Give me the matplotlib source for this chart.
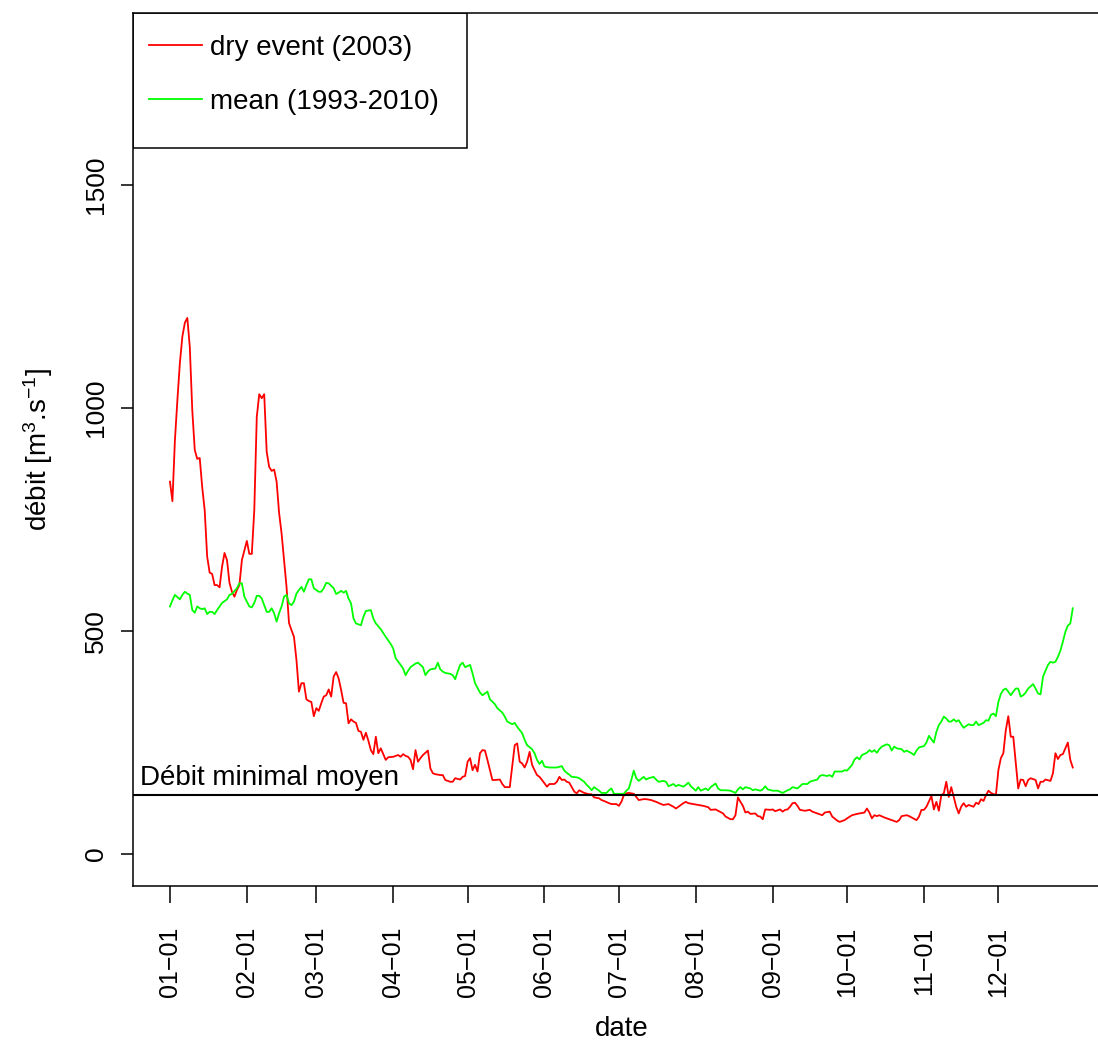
import matplotlib
matplotlib.use('Agg')
import matplotlib.pyplot as plt
import matplotlib.transforms as mtransforms
from matplotlib.patches import Rectangle

# Daily flow for the dry year 2003 (day of year, m3/s)
dry_days = [1, 2, 3, 4, 5, 6, 7, 8, 9, 10, 11, 12, 13, 14, 15, 16, 17, 18, 19, 20,
            21, 22, 23, 24, 25, 26, 27, 28, 29, 30, 32, 33, 34, 35, 36, 37, 38, 39, 40,
            41, 42, 43, 44, 45, 46, 47, 48, 49, 50, 51, 52, 53, 54, 55, 56, 57, 58, 59,
            60, 61, 62, 63, 64, 65, 66, 67, 68, 69, 70, 71, 72, 73, 74, 75, 76, 77, 78,
            79, 80, 81, 82, 83, 84, 85, 86, 88, 89, 91, 93, 94, 95, 96, 97, 98, 99, 100,
            101, 102, 103, 104, 105, 106, 107, 108, 110, 111, 112, 114, 115, 116, 118,
            119, 120, 121, 122, 123, 124, 125, 126, 127, 128, 129, 130, 131, 132, 134,
            135, 136, 138, 139, 140, 141, 142, 143, 144, 145, 146, 147, 148, 149, 150,
            151, 153, 154, 156, 157, 158, 159, 160, 161, 162, 163, 164, 165, 166, 168,
            170, 171, 172, 174, 175, 176, 178, 179, 181, 182, 183, 184, 185, 186, 188,
            189, 190, 192, 193, 195, 197, 199, 200, 202, 204, 205, 206, 208, 209, 210,
            212, 214, 216, 218, 219, 221, 222, 224, 225, 227, 228, 229, 230, 231, 232,
            233, 234, 235, 237, 238, 239, 240, 241, 243, 244, 245, 247, 248, 249, 250,
            251, 252, 253, 254, 255, 257, 259, 260, 262, 264, 265, 267, 268, 270, 271,
            273, 274, 276, 278, 279, 281, 282, 283, 284, 285, 286, 287, 289, 290, 292,
            294, 295, 296, 298, 299, 300, 302, 303, 304, 305, 306, 308, 309, 310, 311,
            312, 313, 314, 315, 316, 317, 318, 319, 320, 321, 322, 323, 325, 326, 327,
            328, 329, 330, 331, 332, 334, 335, 336, 337, 338, 339, 340, 341, 343, 344,
            345, 346, 347, 348, 350, 351, 352, 353, 354, 356, 357, 358, 359, 360, 361,
            362, 363, 364, 365]
dry_flow = [835, 791, 928, 1018, 1101, 1160, 1191, 1202, 1137, 995, 906, 886, 888, 823,
            771, 667, 631, 628, 603, 603, 598, 644, 675, 659, 608, 588, 577, 592, 603,
            659, 702, 673, 673, 771, 980, 1031, 1022, 1031, 902, 868, 859, 862, 835,
            765, 719, 659, 599, 518, 502, 487, 435, 364, 383, 383, 347, 343, 341, 309,
            327, 321, 338, 353, 356, 369, 353, 398, 408, 394, 368, 339, 338, 293, 302,
            297, 294, 276, 274, 256, 272, 254, 233, 224, 263, 226, 237, 211, 217, 218,
            222, 218, 224, 220, 218, 211, 190, 233, 207, 215, 222, 227, 232, 192, 181,
            179, 177, 177, 166, 162, 162, 170, 167, 173, 175, 207, 215, 188, 200, 185,
            226, 233, 232, 211, 188, 166, 166, 167, 157, 150, 150, 196, 244, 248, 207,
            203, 194, 207, 229, 200, 188, 177, 173, 166, 151, 157, 157, 162, 173, 166,
            167, 162, 160, 150, 140, 136, 143, 137, 134, 134, 127, 125, 121, 119, 114,
            112, 112, 108, 117, 132, 136, 137, 135, 128, 121, 123, 123, 121, 117, 112,
            110, 112, 106, 102, 106, 114, 117, 114, 112, 110, 108, 105, 99, 100, 97, 91,
            84, 78, 78, 87, 127, 117, 108, 93, 95, 90, 91, 85, 84, 78, 100, 99, 100, 96,
            100, 95, 99, 100, 106, 114, 115, 108, 99, 97, 99, 95, 91, 87, 93, 95, 84,
            75, 72, 76, 80, 87, 90, 91, 93, 102, 93, 80, 87, 85, 87, 82, 80, 76, 72, 76,
            85, 87, 85, 82, 76, 84, 99, 99, 106, 130, 100, 117, 97, 132, 136, 162, 128,
            150, 128, 106, 91, 106, 114, 106, 110, 106, 115, 112, 123, 119, 132, 142,
            137, 132, 188, 215, 226, 278, 309, 263, 263, 147, 167, 166, 152, 166, 170,
            166, 147, 162, 162, 167, 164, 181, 226, 213, 222, 224, 237, 250, 211, 194]

# Mean daily flow 1993-2010
mean_days = [1, 2, 3, 4, 5, 6, 7, 8, 9, 10, 11, 12, 13, 14, 15, 16, 17, 18, 19, 20,
             21, 22, 24, 25, 26, 28, 29, 30, 31, 32, 33, 34, 35, 36, 37, 38, 39, 40,
             41, 42, 43, 44, 45, 46, 47, 48, 49, 50, 51, 52, 53, 54, 55, 56, 57, 58,
             59, 61, 62, 63, 64, 65, 67, 68, 69, 70, 71, 72, 73, 74, 75, 76, 78, 79,
             80, 82, 83, 84, 86, 88, 90, 91, 92, 94, 95, 96, 97, 98, 100, 101, 103,
             104, 105, 106, 108, 109, 110, 111, 112, 114, 115, 116, 117, 118, 119, 120,
             122, 123, 124, 126, 127, 129, 130, 132, 133, 135, 136, 137, 139, 140, 141,
             143, 144, 145, 147, 148, 149, 150, 151, 152, 154, 157, 159, 160, 161, 162,
             163, 165, 166, 168, 169, 170, 171, 172, 174, 175, 177, 178, 179, 180, 181,
             182, 184, 185, 186, 187, 188, 189, 190, 192, 193, 194, 196, 197, 198, 200,
             201, 202, 204, 205, 206, 208, 209, 210, 211, 213, 214, 215, 217, 218, 219,
             221, 222, 223, 225, 227, 229, 230, 231, 232, 233, 235, 236, 237, 239, 240,
             241, 242, 244, 246, 248, 250, 251, 252, 254, 255, 256, 258, 259, 260, 262,
             263, 264, 266, 267, 268, 269, 270, 272, 273, 274, 276, 277, 278, 279, 280,
             282, 283, 284, 285, 286, 287, 288, 290, 291, 292, 293, 294, 296, 297, 298,
             299, 300, 301, 302, 303, 305, 306, 307, 308, 309, 310, 311, 312, 313, 314,
             315, 316, 317, 318, 319, 320, 321, 323, 324, 325, 326, 327, 329, 330, 331,
             332, 333, 334, 335, 336, 337, 338, 339, 340, 341, 342, 343, 344, 345, 346,
             347, 349, 350, 351, 352, 353, 354, 355, 356, 357, 358, 359, 360, 361, 362,
             363, 364, 365]
mean_flow = [555, 569, 581, 576, 571, 581, 588, 584, 581, 547, 541, 555, 551, 549, 551,
             538, 543, 543, 538, 547, 555, 563, 571, 581, 583, 596, 607, 607, 577, 566,
             555, 553, 563, 579, 579, 573, 558, 543, 543, 551, 540, 521, 540, 555, 577,
             581, 562, 558, 566, 584, 592, 599, 588, 603, 616, 616, 596, 588, 588, 596,
             608, 607, 596, 583, 586, 590, 586, 590, 573, 562, 528, 517, 513, 532, 545,
             547, 528, 517, 504, 487, 471, 461, 439, 424, 416, 401, 411, 419, 427, 429,
             419, 401, 409, 414, 416, 429, 414, 409, 406, 404, 401, 392, 409, 424, 429,
             419, 424, 405, 383, 362, 356, 364, 347, 336, 327, 317, 308, 297, 291, 294,
             285, 271, 256, 244, 235, 226, 211, 202, 209, 196, 194, 194, 197, 187, 182,
             178, 173, 172, 170, 162, 155, 150, 143, 150, 142, 137, 137, 143, 147, 135,
             135, 135, 135, 142, 147, 166, 187, 170, 164, 173, 167, 170, 173, 167, 162,
             164, 162, 152, 157, 152, 155, 151, 155, 160, 152, 142, 150, 142, 147, 143,
             150, 158, 147, 143, 143, 142, 137, 145, 150, 145, 150, 147, 143, 145, 142,
             145, 152, 145, 142, 142, 137, 143, 145, 150, 147, 152, 157, 157, 162, 164,
             167, 175, 177, 175, 177, 173, 185, 185, 185, 188, 187, 200, 212, 217, 212,
             222, 227, 233, 229, 233, 227, 235, 241, 246, 244, 232, 241, 237, 235, 229,
             232, 229, 226, 222, 232, 239, 242, 250, 265, 257, 250, 274, 289, 297, 308,
             304, 297, 297, 302, 297, 300, 291, 283, 291, 289, 289, 297, 289, 294, 300,
             299, 312, 315, 309, 341, 359, 368, 371, 364, 356, 364, 371, 371, 353, 356,
             362, 371, 381, 371, 360, 358, 398, 411, 424, 431, 429, 431, 442, 456, 476,
             498, 512, 517, 551]

# Mean minimal flow (horizontal reference)
min_flow = 132

# Ticks on the first day of each month (2003)
month_days = [1, 32, 60, 91, 121, 152, 182, 213, 244, 274, 305, 335]
month_labels = ['01\u221201', '02\u221201', '03\u221201', '04\u221201', '05\u221201',
                '06\u221201', '07\u221201', '08\u221201', '09\u221201', '10\u221201',
                '11\u221201', '12\u221201']
y_ticks = [0, 500, 1000, 1500]


def main():
    plt.rcParams['font.family'] = ['Liberation Sans', 'DejaVu Sans']
    plt.rcParams['mathtext.default'] = 'regular'

    fig = plt.figure(figsize=(10.98, 10.41), dpi=100)
    ax = fig.add_axes([133 / 1098, 155 / 1041, 976 / 1098, 873 / 1041])

    # Plot both series
    ax.plot(dry_days, dry_flow, color='#ff0000', lw=1.3, label='dry event (2003)')
    ax.plot(mean_days, mean_flow, color='#00ff00', lw=1.3, label='mean (1993-2010)')
    ax.axhline(min_flow, color='black', lw=1.5)

    # Label of the reference line, left aligned in the plot
    trans = mtransforms.blended_transform_factory(ax.transAxes, ax.transData)
    ax.annotate('Débit minimal moyen', xy=(0.007, min_flow), xycoords=trans,
                xytext=(0, 3), textcoords='offset points',
                ha='left', va='bottom', fontsize=20)

    ax.set_xlim(-13.9, 379.6)
    ax.set_ylim(-71.7, 1885.7)

    ax.set_xticks(month_days)
    ax.set_xticklabels(month_labels, rotation=90, fontsize=18)
    ax.set_yticks(y_ticks)
    ax.set_yticklabels([str(t) for t in y_ticks], rotation=90, va='center', fontsize=19)
    ax.tick_params(axis='x', direction='out', length=12, width=1.1, pad=17)
    ax.tick_params(axis='y', direction='out', length=9, width=1.1, pad=9)

    for sp in ax.spines.values():
        sp.set_linewidth(1.1)

    ax.set_xlabel('date', fontsize=20, va='center')
    ax.xaxis.set_label_coords(0.501, -0.1638)
    ax.set_ylabel('débit [m$^3$.s$^{-1}$]', fontsize=20, va='center', ha='center')
    ax.yaxis.set_label_coords(-0.0973, 0.5)

    # Legend without its own frame, R-style box drawn separately (taller at the bottom)
    ax.legend(loc='upper left', bbox_to_anchor=(-0.006, 1.0), borderaxespad=0,
              frameon=False, fontsize=20, handlelength=1.9, handletextpad=0.3,
              borderpad=0.8, labelspacing=1.0)
    box_w = 334 / 976
    box_h = 135 / 873
    ax.add_patch(Rectangle((0, 1 - box_h), box_w, box_h, transform=ax.transAxes,
                           fill=False, edgecolor='black', lw=1.1, zorder=5))

    fig.savefig('out.png', dpi=100)


if __name__ == "__main__":
    main()
